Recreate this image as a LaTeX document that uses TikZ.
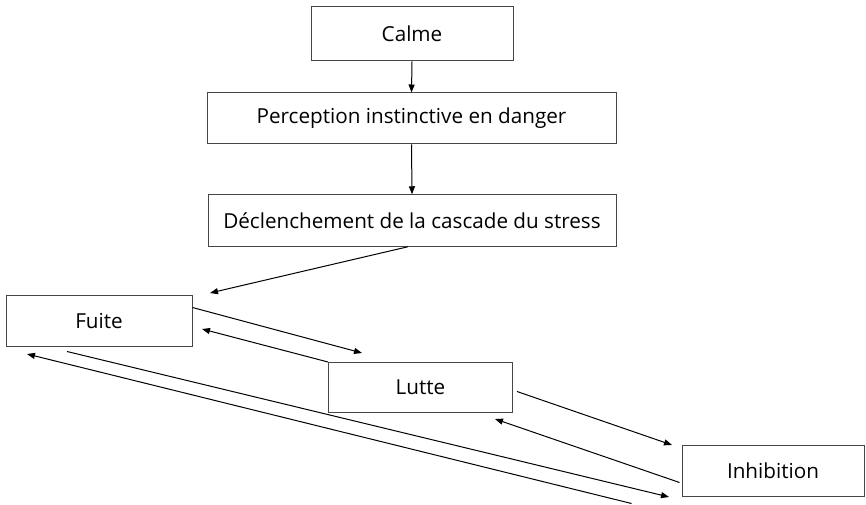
\documentclass[tikz,border=0pt]{standalone}
\usepackage{fontspec}
\setmainfont{Open Sans}
\usetikzlibrary{arrows.meta,calc}

\tikzset{every picture/.style={line width=0.75pt}}
\tikzset{
  etape/.style={draw={rgb,255:red,70;green,70;blue,70}, fill=white, inner sep=0.75pt,
    font=\fontsize{15.5}{18}\selectfont},
  fleche/.style={-{Triangle[length=6pt,width=4.5pt]}, color=black}
}

\begin{document}
\begin{tikzpicture}[x=0.75pt,y=0.75pt,yscale=-1,xscale=1]
\useasboundingbox (0,0) rectangle (866,505);

% Text Node
\node (calme) at (412,34) [etape, minimum width=151.5pt, minimum height=40.5pt] {Calme};
% Text Node
\node (percep) at (411.5,118.5) [etape, minimum width=306.75pt, minimum height=38.25pt] {Perception instinctive en danger};
% Text Node
\node (declen) at (412,220.5) [etape, minimum width=306pt, minimum height=38.6pt] {Déclenchement de la cascade du stress};
% Text Node
\node (fuite) at (99,321.5) [etape, minimum width=139.5pt, minimum height=38.25pt] {Fuite};
% Text Node
\node (lutte) at (420.5,387.5) [etape, minimum width=138pt, minimum height=37.5pt] {Lutte};
% Text Node
\node (inhib) at (773,470.5) [etape, minimum width=136.5pt, minimum height=38.25pt] {Inhibition};

%free ends
\coordinate (versFuite) at (210,293);
\coordinate (versLutte) at (362,353);
\coordinate (retourFuite) at (202,329);
\coordinate (versInhib) at (672,445);
\coordinate (retourLutte) at (495,419);
\coordinate (basInhib) at (669,497);
\coordinate (basFuite) at (27,354);

%Straight Lines
\draw [fleche] (calme.south) -- (percep.north);
%Straight Lines
\draw [fleche] (percep.south) -- (declen.north);
%Straight Lines
\draw [fleche] ($(declen.south)+(-4,0)$) -- (versFuite);
%Straight Lines
\draw [fleche] ($(fuite.north east)+(0,12)$) -- (versLutte);
%Straight Lines
\draw [fleche] (lutte.north west) -- (retourFuite);
%Straight Lines
\draw [fleche] ($(lutte.east)+(4,4)$) -- (versInhib);
%Straight Lines
\draw [fleche] ($(inhib.south west)+(-2,-14)$) -- (retourLutte);
%Straight Lines
\draw [fleche] ($(fuite.south)+(-32,4)$) -- (basInhib);
%Straight Lines
\draw [fleche] ($(inhib.south west)+(-50,7)$) -- (basFuite);

\end{tikzpicture}
\end{document}
